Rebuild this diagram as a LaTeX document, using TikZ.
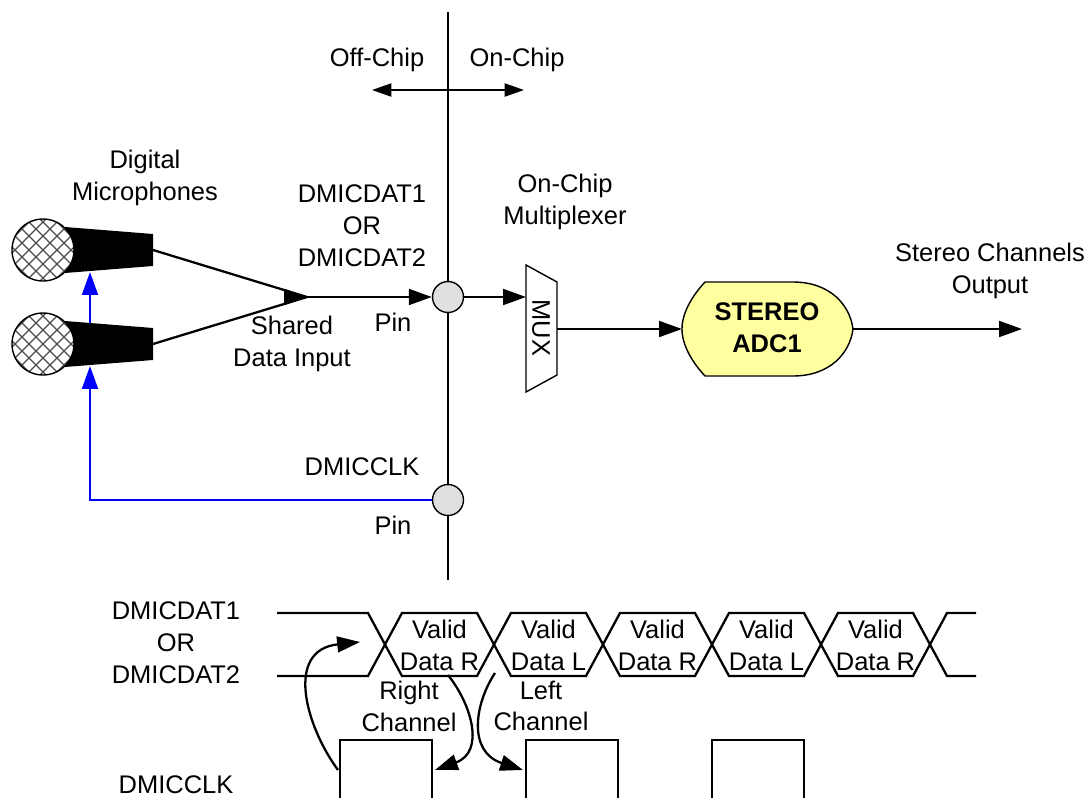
\documentclass[tikz,border=0pt]{standalone}
\usepackage{fontspec}
\setmainfont{Liberation Sans}
\usetikzlibrary{arrows.meta,calc}
\definecolor{adcyellow}{RGB}{255,255,160}

\begin{document}
\begin{tikzpicture}[x=0.02cm,y=-0.02cm,
        >={Triangle[length=13pt,width=9pt]},
        every node/.style={font=\fontsize{14.5}{18.1}\selectfont},
        wire/.style={line width=1.3pt},
        thinline/.style={line width=0.8pt},
        clkwire/.style={line width=1.3pt,draw=blue},
        pin/.style={circle,draw,line width=0.8pt,fill=black!12,minimum size=0.62cm,inner sep=0pt},
        lbl/.style={align=center,inner sep=0pt}]
        \useasboundingbox (0,0) rectangle (1090,798);

        % chip boundary
        \draw[thinline] (448,12) -- (448,580);
        \node[lbl] (offchip) at (377,60) {Off-Chip};
        \node[lbl] (onchip) at (517,60) {On-Chip};
        \draw[thinline,<->,>={Triangle[length=11pt,width=7.5pt]}] (372,90) -- (524,90);

        % microphones
        \foreach \y/\name in {250/mic1,344/mic2} {
            \fill (65,\y-23) -- (153,\y-16) -- (153,\y+16) -- (65,\y+23) -- cycle;
            \fill[white] (43,\y) circle[radius=0.62cm];
            \begin{scope}
                \clip (43,\y) circle[radius=0.62cm];
                \foreach \d in {-84,-70,...,84} {
                    \draw[black!70,line width=0.8pt] (43+\d-40,\y-40) -- (43+\d+40,\y+40);
                    \draw[black!70,line width=0.8pt] (43+\d-40,\y+40) -- (43+\d+40,\y-40);
                }
            \end{scope}
            \draw[thinline] (43,\y) circle[radius=0.62cm];
            \coordinate (\name) at (153,\y);
        }
        \node[lbl] (mics) at (145,178) {Digital\\Microphones};

        % data path
        \coordinate (join) at (307,297);
        \coordinate (joinb) at (290,297);
        \node[pin] (pin1) at (448,297) {};
        \draw[wire] (mic1) -- (join);
        \draw[wire] (mic2) -- (join);
        \draw[wire,->] (joinb) -- (join);
        \draw[wire,->] (join) -- (pin1);
        \node[lbl] (datlbl) at (362,226) {DMICDAT1\\OR\\DMICDAT2};
        \node[lbl] (shared) at (292,344) {Shared\\Data Input};
        \node[lbl] (pinlbl1) at (393,322) {Pin};

        % multiplexer
        \draw[thinline] (526,265) -- (557,282) -- (557,375) -- (526,392) -- cycle;
        \node[lbl,rotate=-90] (mux) at (541,328) {MUX};
        \coordinate (muxin) at (526,297);
        \coordinate (muxout) at (557,329);
        \draw[wire,->] (pin1) -- (muxin);
        \node[lbl] (muxlbl) at (565,202) {On-Chip\\Multiplexer};

        % adc
        \draw[thinline,fill=adcyellow] (705,282) -- (793,282)
            .. controls (830,282) and (850,305) .. (853,329)
            .. controls (850,353) and (830,376) .. (793,376) -- (705,376)
            .. controls (692,362) and (682,345) .. (682,329)
            .. controls (682,313) and (692,296) .. (705,282) -- cycle;
        \node[lbl,font=\fontsize{14.5}{18.1}\selectfont\bfseries] (adc) at (767,328) {STEREO\\ADC1};
        \coordinate (adcin) at (682,329);
        \coordinate (adcout) at (853,329);
        \coordinate (chout) at (1022,329);
        \draw[wire,->] (muxout) -- (adcin);
        \draw[wire,->] (adcout) -- (chout);
        \node[lbl] (outlbl) at (990,271) {Stereo Channels\\Output};

        % clock
        \node[pin] (pin2) at (448,500) {};
        \coordinate (clkin) at (90,366);
        \coordinate (clkb) at (90,323);
        \coordinate (clkt) at (90,272);
        \draw[clkwire,->] (pin2) -| (clkin);
        \draw[clkwire,->] (clkb) -- (clkt);
        \node[lbl] (clklbl) at (362,467) {DMICCLK};
        \node[lbl] (pinlbl2) at (393,525) {Pin};

        % timing diagram
        \node[lbl] (tdat) at (176,643) {DMICDAT1\\OR\\DMICDAT2};
        \node[lbl] (tclk) at (176,785) {DMICCLK};
        \draw[wire] (277,613) -- (368,613) -- (385,644.5) -- (368,676) -- (277,676);
        \foreach \i/\ch in {0/R,1/L,2/R,3/L,4/R} {
            \draw[wire] (385+109*\i,644.5) -- (402+109*\i,613) -- (477+109*\i,613)
                -- (494+109*\i,644.5) -- (477+109*\i,676) -- (402+109*\i,676) -- cycle;
            \node[lbl] (cell\i) at (439.5+109*\i,645) {Valid\\Data \ch};
        }
        \draw[wire] (976,613) -- (947,613) -- (930,644.5) -- (947,676) -- (976,676);
        \foreach \i in {0,1,2}
            \draw[wire] (340+186*\i,798) -- (340+186*\i,740) -- (432+186*\i,740) -- (432+186*\i,798);
        \node[lbl] (rch) at (409,706) {Right\\Channel};
        \node[lbl] (lch) at (541,706) {Left\\Channel};
        \draw[wire,->] (338,770) .. controls (305,725) and (285,650) .. (360,642);
        \draw[wire,->] (448,675) .. controls (472,705) and (485,752) .. (435,770);
        \draw[wire,->] (495,673) .. controls (474,705) and (468,752) .. (523,770);
\end{tikzpicture}
\end{document}
